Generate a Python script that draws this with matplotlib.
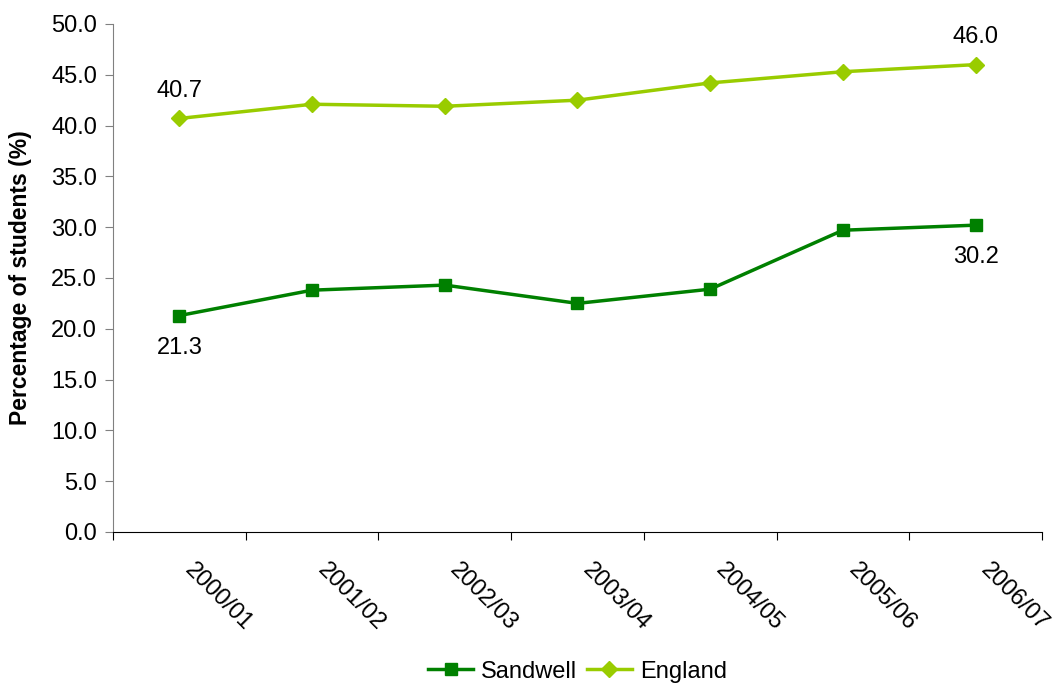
import numpy as np
import matplotlib.pyplot as plt
import matplotlib.transforms as mtransforms
from matplotlib.ticker import FixedLocator, FormatStrFormatter

plt.rcParams['font.family'] = ['Liberation Sans', 'DejaVu Sans']

years = ['2000/01', '2001/02', '2002/03', '2003/04', '2004/05', '2005/06', '2006/07']
sandwell = [21.3, 23.8, 24.3, 22.5, 23.9, 29.7, 30.2]
england = [40.7, 42.1, 41.9, 42.5, 44.2, 45.3, 46.0]

fs = 17
fig = plt.figure(figsize=(10.54, 6.83), dpi=100)
ax = fig.add_axes([0.1072, 0.2211, 0.8814, 0.7438])

idx = np.arange(len(years))
ax.plot(idx, sandwell, color='#008000', lw=2.5, marker='s', ms=9, label='Sandwell')
ax.plot(idx, england, color='#99CC00', lw=2.5, marker='D', ms=8, label='England')

# end-point labels
for i in [0, -1]:
    ax.annotate('%.1f' % england[i], (idx[i], england[i]), xytext=(0, 20), textcoords='offset points',
                ha='center', va='center', fontsize=fs)
    ax.annotate('%.1f' % sandwell[i], (idx[i], sandwell[i]), xytext=(0, -23), textcoords='offset points',
                ha='center', va='center', fontsize=fs)

ax.set_xlim(-0.5, len(years) - 0.5)
ax.set_ylim(0, 50)
ax.set_yticks(np.arange(0, 50.1, 5))
ax.yaxis.set_major_formatter(FormatStrFormatter('%.1f'))
ax.tick_params(axis='y', labelsize=fs, length=6, color='#808080', pad=5.5)

ax.xaxis.set_major_locator(FixedLocator(np.arange(-0.5, len(years), 1.0)))
ax.xaxis.set_minor_locator(FixedLocator(idx))
ax.set_xticklabels([])
ax.set_xticklabels(years, minor=True, rotation=-45, ha='center', va='center',
                   rotation_mode='anchor', fontsize=fs)
ax.tick_params(axis='x', which='major', length=6, color='black')
ax.tick_params(axis='x', which='minor', length=0, pad=47)
shift = mtransforms.ScaledTranslation(0.39, 0, fig.dpi_scale_trans)
for lab in ax.get_xticklabels(minor=True):
    lab.set_transform(lab.get_transform() + shift)

for s in ['top', 'right']:
    ax.spines[s].set_visible(False)
ax.spines['left'].set_color('#808080')
ax.spines['bottom'].set_color('black')

ax.set_ylabel('Percentage of students (%)', fontsize=16.5, fontweight='bold', labelpad=14)

ax.legend(loc='center', bbox_to_anchor=(0.5, -0.275), ncol=2, frameon=False,
          fontsize=fs, handlelength=1.9, handletextpad=0.35, columnspacing=0.4, borderaxespad=0)

fig.savefig('out.png', dpi=100)
